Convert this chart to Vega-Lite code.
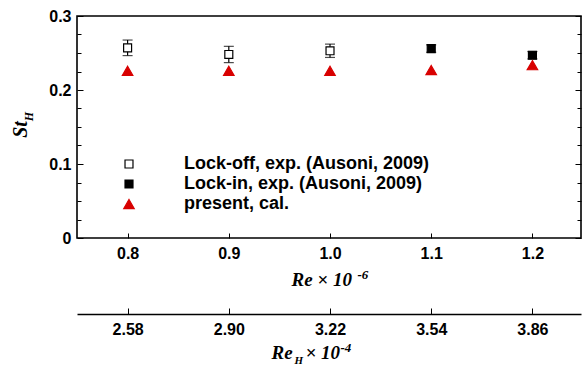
{
  "$schema": "https://vega.github.io/schema/vega-lite/v6.json",
  "width": 504,
  "height": 222,
  "autosize": {"type": "none"},
  "padding": {"left": 77, "top": 16, "right": 3, "bottom": 129},
  "background": "white",
  "view": {"stroke": "black", "strokeWidth": 1.6},
  "data": {
    "values": [
      {"series": "Lock-off, exp. (Ausoni, 2009)", "Re": 0.8, "ReH": 2.58, "St": 0.257, "lo": 0.2465, "hi": 0.2675},
      {"series": "Lock-off, exp. (Ausoni, 2009)", "Re": 0.9, "ReH": 2.90, "St": 0.248, "lo": 0.237, "hi": 0.259},
      {"series": "Lock-off, exp. (Ausoni, 2009)", "Re": 1.0, "ReH": 3.22, "St": 0.253, "lo": 0.244, "hi": 0.262},
      {"series": "Lock-in, exp. (Ausoni, 2009)", "Re": 1.1, "ReH": 3.54, "St": 0.256, "lo": 0.251, "hi": 0.261},
      {"series": "Lock-in, exp. (Ausoni, 2009)", "Re": 1.2, "ReH": 3.86, "St": 0.247, "lo": 0.242, "hi": 0.252},
      {"series": "present, cal.", "Re": 0.8, "ReH": 2.58, "St": 0.226},
      {"series": "present, cal.", "Re": 0.9, "ReH": 2.90, "St": 0.226},
      {"series": "present, cal.", "Re": 1.0, "ReH": 3.22, "St": 0.226},
      {"series": "present, cal.", "Re": 1.1, "ReH": 3.54, "St": 0.227},
      {"series": "present, cal.", "Re": 1.2, "ReH": 3.86, "St": 0.2335}
    ]
  },
  "resolve": {
    "scale": {"x": "independent"},
    "axis": {"x": "independent", "y": "independent"}
  },
  "layer": [
    {
      "transform": [{"filter": "isValid(datum.lo)"}],
      "mark": {
        "type": "errorbar",
        "color": "black",
        "thickness": 1.2,
        "ticks": {"size": 10, "thickness": 1.2, "color": "black"}
      },
      "encoding": {
        "x": {"field": "Re", "type": "quantitative", "scale": {"domain": [0.75, 1.248]}, "axis": null},
        "y": {"field": "lo", "type": "quantitative", "scale": {"domain": [0, 0.3]}, "axis": null},
        "y2": {"field": "hi"}
      }
    },
    {
      "mark": {"type": "point", "filled": false, "opacity": 1, "strokeWidth": 1.2, "size": 110},
      "encoding": {
        "x": {
          "field": "Re", "type": "quantitative",
          "scale": {"domain": [0.75, 1.248]},
          "axis": {
            "orient": "bottom",
            "grid": false,
            "values": [0.8, 0.9, 1.0, 1.1, 1.2],
            "format": ".1f",
            "domain": false,
            "ticks": false,
            "labelPadding": 7,
            "labelColor": "black",
            "labelFont": "Liberation Sans",
            "labelFontWeight": "bold",
            "labelFontSize": 16,
            "labelFlush": false,
            "title": "Re × 10",
            "titleColor": "black",
            "titleFont": "Liberation Serif",
            "titleFontStyle": "italic",
            "titleFontWeight": "bold",
            "titleFontSize": 19,
            "titleAlign": "left",
            "titleBaseline": "alphabetic",
            "titleX": 214,
            "titleY": 47
          }
        },
        "y": {
          "field": "St", "type": "quantitative",
          "scale": {"domain": [0, 0.3]},
          "axis": {
            "orient": "left",
            "grid": false,
            "values": [0, 0.1, 0.2, 0.3],
            "labelExpr": "datum.value == 0 ? '0' : format(datum.value, '.1f')",
            "domain": false,
            "ticks": false,
            "labelPadding": 6,
            "labelColor": "black",
            "labelFont": "Liberation Sans",
            "labelFontWeight": "bold",
            "labelFontSize": 16,
            "labelFlush": false,
            "labelOverlap": false,
            "title": "St",
            "titleColor": "black",
            "titleFont": "Liberation Serif",
            "titleFontStyle": "italic",
            "titleFontWeight": "bold",
            "titleFontSize": 20,
            "titleAngle": -90,
            "titleAlign": "center",
            "titleBaseline": "alphabetic",
            "titleX": -51,
            "titleY": 113
          }
        },
        "shape": {
          "field": "series", "type": "nominal",
          "scale": {
            "domain": ["Lock-off, exp. (Ausoni, 2009)", "Lock-in, exp. (Ausoni, 2009)", "present, cal."],
            "range": ["M-0.76,-0.76H0.76V0.76H-0.76Z", "M-0.76,-0.76H0.76V0.76H-0.76Z", "M0,-0.866L1,0.866L-1,0.866Z"]
          },
          "legend": {
            "orient": "none",
            "legendX": 43,
            "legendY": 139,
            "title": null,
            "padding": 0,
            "symbolSize": 110,
            "symbolStrokeWidth": 1.2,
            "labelFont": "Liberation Sans",
            "labelFontWeight": "bold",
            "labelFontSize": 18,
            "labelColor": "black",
            "labelOffset": 46,
            "labelLimit": 400,
            "rowPadding": 2
          }
        },
        "fill": {
          "field": "series", "type": "nominal",
          "scale": {
            "domain": ["Lock-off, exp. (Ausoni, 2009)", "Lock-in, exp. (Ausoni, 2009)", "present, cal."],
            "range": ["white", "black", "#d80000"]
          }
        },
        "stroke": {
          "field": "series", "type": "nominal",
          "scale": {
            "domain": ["Lock-off, exp. (Ausoni, 2009)", "Lock-in, exp. (Ausoni, 2009)", "present, cal."],
            "range": ["black", "black", "#d80000"]
          }
        }
      }
    },
    {
      "mark": {"type": "point", "opacity": 0},
      "encoding": {
        "x": {
          "field": "ReH", "type": "quantitative",
          "scale": {"domain": [2.42, 4.0136]},
          "axis": {
            "orient": "bottom",
            "offset": 76,
            "grid": false,
            "values": [2.58, 2.90, 3.22, 3.54, 3.86],
            "format": ".2f",
            "domain": true,
            "domainColor": "black",
            "domainWidth": 1.6,
            "ticks": false,
            "labelPadding": 7,
            "labelColor": "black",
            "labelFont": "Liberation Sans",
            "labelFontWeight": "bold",
            "labelFontSize": 16,
            "labelFlush": false,
            "title": "Re",
            "titleColor": "black",
            "titleFont": "Liberation Serif",
            "titleFontStyle": "italic",
            "titleFontWeight": "bold",
            "titleFontSize": 19,
            "titleAlign": "left",
            "titleBaseline": "alphabetic",
            "titleX": 194,
            "titleY": 44
          }
        },
        "y": {
          "field": "St", "type": "quantitative",
          "scale": {"domain": [0, 0.3]},
          "axis": {
            "orient": "right",
            "offset": -504,
            "grid": false,
            "values": [0, 0.025, 0.05, 0.075, 0.1, 0.125, 0.15, 0.175, 0.2, 0.225, 0.25, 0.275, 0.3],
            "labels": false,
            "domain": false,
            "tickColor": "black",
            "tickSize": {"condition": {"test": "abs(datum.value*10 - round(datum.value*10)) < 1e-6", "value": 6}, "value": 4},
            "tickWidth": 1,
            "title": null
          }
        }
      }
    },
    {
      "mark": {"type": "point", "opacity": 0},
      "encoding": {
        "x": {
          "field": "Re", "type": "quantitative",
          "scale": {"domain": [0.75, 1.248]},
          "axis": {
            "orient": "top",
            "offset": -222,
            "grid": false,
            "values": [0.8, 0.9, 1.0, 1.1, 1.2],
            "labels": false,
            "domain": false,
            "tickColor": "black",
            "tickSize": 5,
            "tickWidth": 1,
            "title": null
          }
        },
        "y": {
          "field": "St", "type": "quantitative",
          "scale": {"domain": [0, 0.3]},
          "axis": {
            "orient": "left",
            "offset": -504,
            "grid": false,
            "values": [0, 0.025, 0.05, 0.075, 0.1, 0.125, 0.15, 0.175, 0.2, 0.225, 0.25, 0.275, 0.3],
            "labels": false,
            "domain": false,
            "tickColor": "black",
            "tickSize": {"condition": {"test": "abs(datum.value*10 - round(datum.value*10)) < 1e-6", "value": 6}, "value": 4},
            "tickWidth": 1,
            "title": null
          }
        }
      }
    },
    {
      "mark": {"type": "point", "opacity": 0},
      "encoding": {
        "x": {
          "field": "ReH", "type": "quantitative",
          "scale": {"domain": [2.42, 4.0136]},
          "axis": {
            "orient": "top",
            "offset": -298,
            "grid": false,
            "values": [2.58, 2.90, 3.22, 3.54, 3.86],
            "labels": false,
            "domain": false,
            "tickColor": "black",
            "tickSize": 6,
            "tickWidth": 1,
            "title": null
          }
        },
        "y": {
          "field": "St", "type": "quantitative",
          "scale": {"domain": [0, 0.3]},
          "axis": {
            "orient": "left",
            "grid": false,
            "domain": false,
            "ticks": false,
            "labels": false,
            "title": "H",
            "titleColor": "black",
            "titleFont": "Liberation Serif",
            "titleFontStyle": "italic",
            "titleFontWeight": "bold",
            "titleFontSize": 12,
            "titleAngle": -90,
            "titleAlign": "center",
            "titleBaseline": "alphabetic",
            "titleX": -45,
            "titleY": 100
          }
        }
      }
    },
    {
      "mark": {"type": "point", "opacity": 0},
      "encoding": {
        "x": {
          "field": "ReH", "type": "quantitative",
          "scale": {"domain": [2.42, 4.0136]},
          "axis": {
            "orient": "bottom",
            "offset": 76,
            "grid": false,
            "domain": false,
            "ticks": false,
            "labels": false,
            "title": "H",
            "titleColor": "black",
            "titleFont": "Liberation Serif",
            "titleFontStyle": "italic",
            "titleFontWeight": "bold",
            "titleFontSize": 11,
            "titleAlign": "left",
            "titleBaseline": "alphabetic",
            "titleX": 217,
            "titleY": 49
          }
        },
        "y": {"field": "St", "type": "quantitative", "scale": {"domain": [0, 0.3]}, "axis": null}
      }
    },
    {
      "mark": {"type": "point", "opacity": 0},
      "encoding": {
        "x": {
          "field": "ReH", "type": "quantitative",
          "scale": {"domain": [2.42, 4.0136]},
          "axis": {
            "orient": "bottom",
            "offset": 76,
            "grid": false,
            "domain": false,
            "ticks": false,
            "labels": false,
            "title": "× 10",
            "titleColor": "black",
            "titleFont": "Liberation Serif",
            "titleFontStyle": "italic",
            "titleFontWeight": "bold",
            "titleFontSize": 19,
            "titleAlign": "left",
            "titleBaseline": "alphabetic",
            "titleX": 228,
            "titleY": 44
          }
        },
        "y": {"field": "St", "type": "quantitative", "scale": {"domain": [0, 0.3]}, "axis": null}
      }
    },
    {
      "mark": {"type": "point", "opacity": 0},
      "encoding": {
        "x": {
          "field": "Re", "type": "quantitative",
          "scale": {"domain": [0.75, 1.248]},
          "axis": {
            "orient": "bottom",
            "grid": false,
            "domain": false,
            "ticks": false,
            "labels": false,
            "title": "-6",
            "titleColor": "black",
            "titleFont": "Liberation Serif",
            "titleFontStyle": "italic",
            "titleFontWeight": "bold",
            "titleFontSize": 13,
            "titleAlign": "left",
            "titleBaseline": "alphabetic",
            "titleX": 280,
            "titleY": 40
          }
        },
        "y": {"field": "St", "type": "quantitative", "scale": {"domain": [0, 0.3]}, "axis": null}
      }
    },
    {
      "mark": {"type": "point", "opacity": 0},
      "encoding": {
        "x": {
          "field": "ReH", "type": "quantitative",
          "scale": {"domain": [2.42, 4.0136]},
          "axis": {
            "orient": "bottom",
            "offset": 76,
            "grid": false,
            "domain": false,
            "ticks": false,
            "labels": false,
            "title": "-4",
            "titleColor": "black",
            "titleFont": "Liberation Serif",
            "titleFontStyle": "italic",
            "titleFontWeight": "bold",
            "titleFontSize": 13,
            "titleAlign": "left",
            "titleBaseline": "alphabetic",
            "titleX": 263,
            "titleY": 37
          }
        },
        "y": {"field": "St", "type": "quantitative", "scale": {"domain": [0, 0.3]}, "axis": null}
      }
    }
  ]
}
